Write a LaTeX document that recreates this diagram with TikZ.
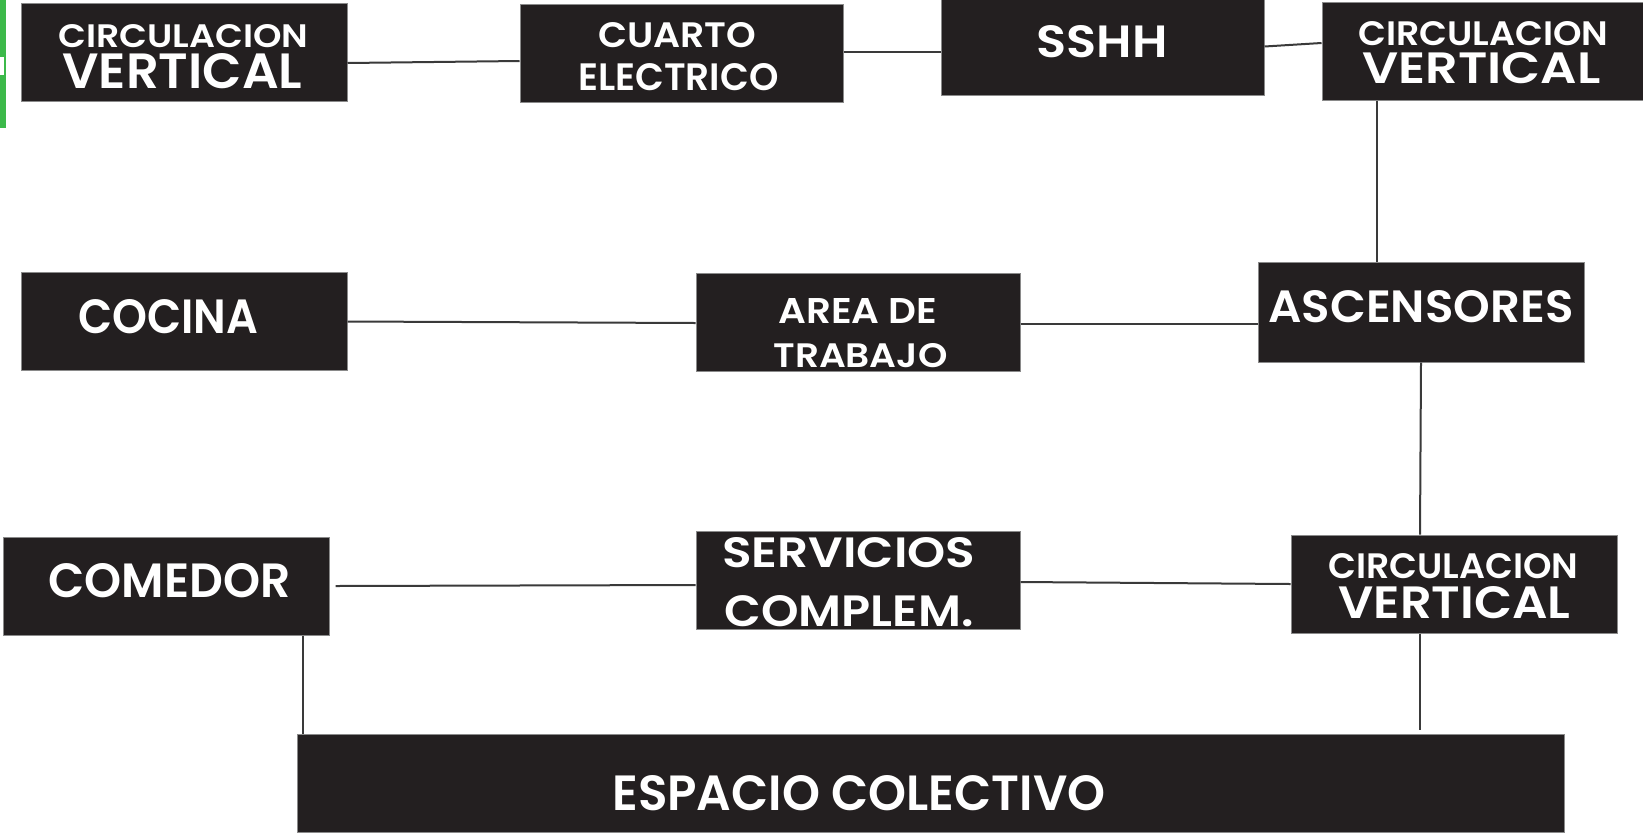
\documentclass[tikz,border=0pt]{standalone}
\usepackage{fontspec}
\setmainfont{Poppins}[BoldFont={Poppins SemiBold}]
\usepackage{graphicx}
\newdimen\pxu \pxu=0.5pt
\newcommand\lab[3]{\resizebox{#1\pxu}{#2\pxu}{\bfseries #3}}
\definecolor{boxfill}{HTML}{231F20}
\definecolor{boxedge}{HTML}{8A8A8A}
\definecolor{linec}{HTML}{3A3A3A}
\definecolor{greenbar}{HTML}{3CB94A}
\begin{document}
\begin{tikzpicture}[x=0.5pt,y=-0.5pt,
  box/.style={draw=boxedge, line width=0.5pt, fill=boxfill, inner sep=0, minimum height=49pt},
  lbl/.style={inner sep=0, anchor=base west, text=white},
  link/.style={draw=linec, line width=1pt}]
\useasboundingbox (0,0) rectangle (1643,836);
\fill[white] (0,0) rectangle (1643,836);
% green bar at the left edge
\fill[greenbar] (0,0) rectangle (6,128);
\fill[white] (0,57) rectangle (4,75);
% boxes
\node[box, minimum width=163pt] (cv1) at (184,52.5) {};
\node[box, minimum width=161.5pt] (ce) at (681.5,53) {};
\node[box, minimum width=161.5pt] (sshh) at (1102.5,46.5) {};
\node[box, minimum width=163pt] (cv2) at (1485,51) {};
\node[box, minimum width=163pt] (cocina) at (184,321.5) {};
\node[box, minimum width=162pt] (area) at (858,322) {};
\node[box, minimum width=163pt, minimum height=50pt] (asc) at (1421,312) {};
\node[box, minimum width=163pt] (comedor) at (166,586) {};
\node[box, minimum width=162pt] (serv) at (858,580) {};
\node[box, minimum width=163pt] (cv3) at (1454,584) {};
\node[box, minimum width=633.5pt] (esp) at (930.5,783) {};
% labels
\node[lbl] (cv1a) at (58,47) {\lab{250}{23}{CIRCULACION}};
\node[lbl] (cv1b) at (62,88) {\lab{240}{35}{VERTICAL}};
\node[lbl] (cea) at (598,47) {\lab{158}{25}{CUARTO}};
\node[lbl] (ceb) at (578,90) {\lab{200}{27}{ELECTRICO}};
\node[lbl] (sshht) at (1036,57) {\lab{131}{32}{SSHH}};
\node[lbl] (cv2a) at (1358,45) {\lab{250}{24}{CIRCULACION}};
\node[lbl] (cv2b) at (1362,83) {\lab{238}{31}{VERTICAL}};
\node[lbl] (cocinat) at (78,333) {\lab{180}{34}{COCINA}};
\node[lbl] (areaa) at (778,323) {\lab{159}{25}{AREA DE}};
\node[lbl] (areab) at (773,367) {\lab{174}{24}{TRABAJO}};
\node[lbl] (asct) at (1268,322) {\lab{305}{32}{ASCENSORES}};
\node[lbl] (comedort) at (48,597) {\lab{242}{34}{COMEDOR}};
\node[lbl] (serva) at (722,567) {\lab{253}{30}{SERVICIOS}};
\node[lbl] (servb) at (724,626) {\lab{249}{31}{COMPLEM.}};
\node[lbl] (cv3a) at (1328,578) {\lab{250}{25}{CIRCULACION}};
\node[lbl] (cv3b) at (1338,618) {\lab{232}{32}{VERTICAL}};
\node[lbl] (espt) at (612,810) {\lab{493}{35}{ESPACIO COLECTIVO}};
% connectors
\draw[link] ([yshift=-5.25pt]cv1.east) -- ([yshift=-4pt]ce.west);
\draw[link] ([yshift=0.5pt]ce.east) -- ([yshift=-2.75pt]sshh.west);
\draw[link] (sshh.east) -- ([yshift=4pt]cv2.west);
\draw[link] ([xshift=-54pt]cv2.south) -- ([xshift=-22pt]asc.north);
\draw[link] (cocina.east) -- ([yshift=-0.5pt]area.west);
\draw[link] ([yshift=-1pt]area.east) -- ([yshift=-6pt]asc.west);
\draw[link] (asc.south) -- ([xshift=-17pt]cv3.north);
\draw[link] ([xshift=3pt]comedor.east) -- ([yshift=-2.5pt]serv.west);
\draw[link] ([yshift=-1pt]serv.east) -- (cv3.west);
\draw[link] ([xshift=-17pt]cv3.south) -- ([xshift=244.75pt,yshift=2pt]esp.north);
\draw[link] ([xshift=68.5pt]comedor.south) -- ([xshift=-313.75pt]esp.north);
\end{tikzpicture}
\end{document}
